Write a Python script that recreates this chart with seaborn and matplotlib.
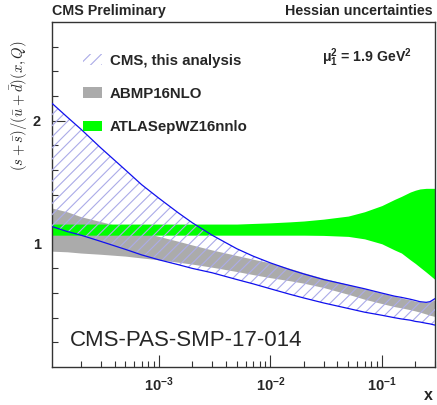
import numpy as np
import pandas as pd
import matplotlib
matplotlib.use("Agg")
import matplotlib.pyplot as plt
import seaborn as sns
from matplotlib.patches import Patch
from matplotlib.ticker import FixedLocator, NullFormatter

# ---------------- data ----------------
x_vals = [1.1e-4, 1.5e-4, 2e-4, 3e-4, 5e-4, 7e-4, 1e-3, 1.5e-3, 2e-3, 3e-3, 5e-3, 7e-3,
          1e-2, 1.5e-2, 2e-2, 3e-2, 5e-2, 7e-2, 0.1, 0.13, 0.15, 0.18, 0.2, 0.22, 0.25, 0.27, 0.3]

cms_up = [2.14, 2.03, 1.93, 1.78, 1.60, 1.48, 1.37, 1.25, 1.17, 1.07, 0.96, 0.90,
          0.845, 0.79, 0.755, 0.71, 0.665, 0.635, 0.60, 0.575, 0.565, 0.55, 0.54, 0.53, 0.525, 0.53, 0.555]
cms_lo = [1.14, 1.10, 1.07, 1.02, 0.955, 0.91, 0.87, 0.83, 0.80, 0.765, 0.71, 0.675,
          0.635, 0.59, 0.56, 0.52, 0.475, 0.445, 0.42, 0.40, 0.39, 0.38, 0.37, 0.365, 0.355, 0.35, 0.34]

abmp_up = [1.29, 1.26, 1.22, 1.18, 1.13, 1.095, 1.06, 1.02, 0.99, 0.95, 0.905, 0.875,
           0.845, 0.80, 0.765, 0.72, 0.67, 0.635, 0.60, 0.575, 0.56, 0.545, 0.535, 0.53, 0.525, 0.53, 0.545]
abmp_lo = [0.94, 0.935, 0.925, 0.915, 0.90, 0.885, 0.87, 0.85, 0.835, 0.81, 0.775, 0.75,
           0.725, 0.70, 0.68, 0.645, 0.59, 0.55, 0.515, 0.49, 0.48, 0.465, 0.455, 0.445, 0.43, 0.42, 0.41]

atlas_up = [1.16, 1.16, 1.16, 1.16, 1.16, 1.16, 1.16, 1.16, 1.16, 1.16, 1.16, 1.165,
            1.17, 1.178, 1.185, 1.20, 1.225, 1.26, 1.31, 1.36, 1.385, 1.42, 1.435, 1.445, 1.45, 1.45, 1.45]
atlas_lo = [1.07, 1.07, 1.07, 1.07, 1.07, 1.07, 1.07, 1.07, 1.07, 1.07, 1.07, 1.07,
            1.07, 1.07, 1.07, 1.068, 1.06, 1.04, 1.00, 0.95, 0.925, 0.87, 0.84, 0.81, 0.77, 0.745, 0.71]

legend_labels = ["CMS, this analysis", "ABMP16NLO", "ATLASepWZ16nnlo"]
x_tick_vals = [1e-3, 1e-2, 1e-1]
x_tick_labels = [r"$\mathbf{10^{-3}}$", r"$\mathbf{10^{-2}}$", r"$\mathbf{10^{-1}}$"]
y_tick_vals = [1, 2]
y_tick_labels = ["1", "2"]

df = pd.DataFrame({"x": x_vals, "cms_up": cms_up, "cms_lo": cms_lo})

# ---------------- style ----------------
sns.set_theme(style="ticks")
plt.rcParams["font.family"] = ["Liberation Sans", "DejaVu Sans"]
plt.rcParams["mathtext.fontset"] = "custom"
plt.rcParams["mathtext.rm"] = "Liberation Sans"
plt.rcParams["mathtext.bf"] = "Liberation Sans:bold"
plt.rcParams["mathtext.it"] = "Liberation Sans:italic"
plt.rcParams["hatch.linewidth"] = 0.8

W, H = 437, 405
fig = plt.figure(figsize=(W / 100, H / 100), dpi=100)
ax = fig.add_axes([52 / W, 1 - 367 / H, (435 - 52) / W, (367 - 22) / H])

GREY = "#ababab"
GREEN = "#00ff00"
BLUE = "#1010ee"
HATCH = "#ababe8"

ax.fill_between(x_vals, abmp_lo, abmp_up, color=GREY, linewidth=0, zorder=1)
ax.fill_between(x_vals, atlas_lo, atlas_up, color=GREEN, linewidth=0, zorder=2)
ax.fill_between(x_vals, cms_lo, cms_up, facecolor="none", edgecolor=HATCH,
                hatch="///", linewidth=0, zorder=3)
sns.lineplot(data=df, x="x", y="cms_up", color=BLUE, linewidth=0.9, ax=ax, zorder=4)
sns.lineplot(data=df, x="x", y="cms_lo", color=BLUE, linewidth=0.9, ax=ax, zorder=4)

ax.set_xscale("log")
ax.set_xlim(1.1e-4, 0.3)
ax.set_ylim(0, 2.8)
ax.set_xlabel("")
ax.set_ylabel("")

# ticks
ax.xaxis.set_major_locator(FixedLocator(x_tick_vals))
ax.set_xticklabels(x_tick_labels)
minor_x = [m * 10.0 ** e for e in range(-4, 0) for m in range(2, 10)]
ax.xaxis.set_minor_locator(FixedLocator(minor_x))
ax.xaxis.set_minor_formatter(NullFormatter())
ax.yaxis.set_major_locator(FixedLocator(y_tick_vals))
ax.set_yticklabels(y_tick_labels)
ax.yaxis.set_minor_locator(FixedLocator([round(0.2 * i, 1) for i in range(1, 14)]))
ax.yaxis.set_minor_formatter(NullFormatter())
ax.tick_params(axis="both", which="major", direction="in", length=9, width=0.8,
               color="#333333", labelsize=10.5, top=False, right=False)
ax.tick_params(axis="both", which="minor", direction="in", length=4.5, width=0.8,
               color="#333333", top=False, right=False)
ax.tick_params(axis="x", which="major", pad=6)
ax.tick_params(axis="y", which="major", pad=8)
for lab in ax.get_yticklabels():
    lab.set_fontweight("bold")
for sp in ax.spines.values():
    sp.set_visible(True)
    sp.set_color("#333333")
    sp.set_linewidth(1.0)

# legend
handles = [
    Patch(facecolor="white", edgecolor=HATCH, hatch="///", linewidth=0),
    Patch(facecolor=GREY, edgecolor="none"),
    Patch(facecolor=GREEN, edgecolor="none"),
]
leg = fig.legend(handles, legend_labels, loc="upper left",
                 bbox_to_anchor=(82.5 / W, 1 - 53.5 / H), frameon=False,
                 prop={"weight": "bold", "size": 10.8}, handlelength=1.27,
                 handleheight=0.73, handletextpad=0.55, labelspacing=1.29,
                 borderpad=0, borderaxespad=0)

# texts
fig.text(52 / W, 1 - 11 / H, "CMS Preliminary", fontsize=10.3, fontweight="bold",
         ha="left", va="center")
fig.text(433 / W, 1 - 11 / H, "Hessian uncertainties", fontsize=10.3, fontweight="bold",
         ha="right", va="center")
fig.text(322 / W, 1 - 58 / H, r"$\mathbf{\mu_1^2}$ = 1.9 GeV$^\mathbf{2}$",
         fontsize=10.2, fontweight="bold", ha="left", va="center")
fig.text(70 / W, 1 - 340.5 / H, "CMS-PAS-SMP-17-014", fontsize=16,
         ha="left", va="center")
fig.text(428 / W, 1 - 396 / H, "x", fontsize=11.5, fontweight="bold",
         ha="center", va="center")
fig.text(19 / W, 1 - 106 / H, r"$(s+\bar{s})/(\bar{u}+\bar{d})(x,Q)$",
         rotation=90, fontsize=10.5, ha="center", va="center",
         math_fontfamily="cm")

fig.savefig("out.png", dpi=100)
